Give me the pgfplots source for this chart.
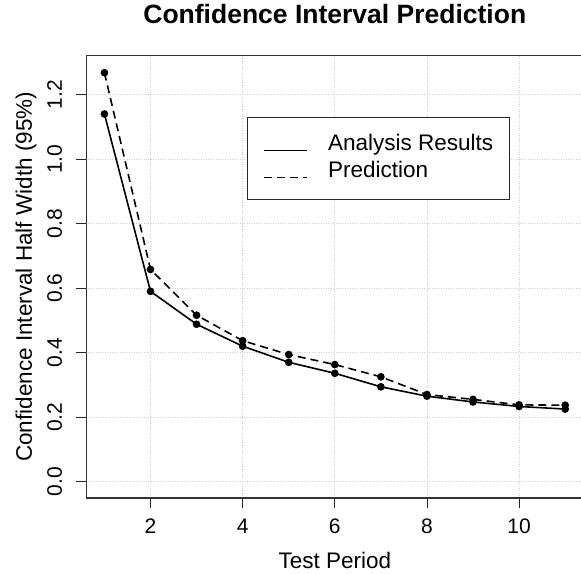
\documentclass[border=0pt]{standalone}
\usepackage{fontspec}
\setmainfont{Liberation Sans}
\usepackage{pgfplots}
\pgfplotsset{compat=1.18}
\begin{document}
\begin{tikzpicture}
\useasboundingbox (0pt,0pt) rectangle (581pt,573pt);
\clip (0pt,0pt) rectangle (581pt,573pt);
\begin{axis}[
  at={(86pt,75pt)}, anchor=south west,
  scale only axis, width=497.6pt, height=442.3pt,
  xmin=0.6, xmax=11.4, ymin=-0.0508, ymax=1.3208,
  xtick={2,4,6,8,10},
  ytick={0,0.2,0.4,0.6,0.8,1.0,1.2},
  /pgf/number format/assume math mode=true,
  xtick pos=left, ytick pos=left,
  tick align=outside, major tick length=10pt,
  tick style={black!85, line width=0.8pt},
  axis line style={black!80, line width=1pt},
  ticklabel style={font=\fontsize{21}{24}\selectfont},
  xticklabel style={anchor=base, yshift=-25pt},
  yticklabel style={/pgf/number format/fixed, /pgf/number format/fixed zerofill, /pgf/number format/precision=1, xshift=-14pt, rotate=90, anchor=base},
  grid=major,
  major grid style={black!18, dotted, line width=0.8pt},
  title={\textbf{Confidence Interval Prediction}},
  title style={at={(axis description cs:0.5,1)}, anchor=base, yshift=26pt, font=\fontsize{26.5}{30}\selectfont},
  xlabel={Test Period},
  xlabel style={at={(axis description cs:0.5,0)}, anchor=base, yshift=-70pt, font=\fontsize{22.5}{26}\selectfont},
  ylabel={Confidence Interval Half Width (95\%)},
  ylabel style={at={([xshift=-54pt]axis description cs:0,0.5)}, anchor=base, font=\fontsize{22.5}{26}\selectfont},
  legend style={at={(0.3236,0.8614)}, anchor=north west, draw=black!85, line width=1pt,
    inner xsep=16pt, inner ysep=17pt, row sep=6pt, column sep=20pt,
    font=\fontsize{22.5}{26}\selectfont,
    nodes={inner sep=0pt, text height=16pt, text depth=5pt, anchor=base west}},
  legend cell align=left,
  legend image code/.code={\draw[#1, mark=none] (0pt,0pt) -- (43pt,0pt);},
]
\addplot[black, line width=1.6pt, mark=*, mark size=3pt, mark options={solid}] coordinates {
  (1,1.140) (2,0.590) (3,0.488) (4,0.420) (5,0.370) (6,0.336)
  (7,0.294) (8,0.265) (9,0.247) (10,0.233) (11,0.225)};
\addlegendentry{Analysis Results}
\addplot[black, line width=1.6pt, dash pattern=on 8pt off 5pt, mark=*, mark size=3pt, mark options={solid}] coordinates {
  (1,1.268) (2,0.658) (3,0.516) (4,0.437) (5,0.394) (6,0.363)
  (7,0.325) (8,0.270) (9,0.255) (10,0.238) (11,0.237)};
\addlegendentry{Prediction}
\end{axis}
\end{tikzpicture}
\end{document}
